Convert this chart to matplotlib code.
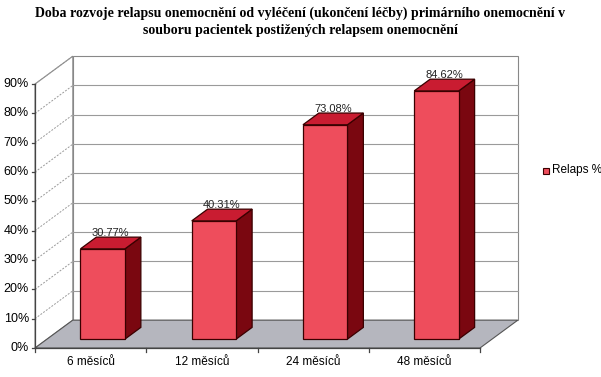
import numpy as np
import matplotlib.pyplot as plt
from matplotlib.patches import Polygon

# data
categories = ["6 měsíců", "12 měsíců", "24 měsíců", "48 měsíců"]
values = [30.77, 40.31, 73.08, 84.62]
value_labels = ["30.77%", "40.31%", "73.08%", "84.62%"]
y_ticks = [0, 10, 20, 30, 40, 50, 60, 70, 80, 90]
series_name = "Relaps %"
title = ("Doba rozvoje relapsu onemocnění od vyléčení (ukončení léčby) primárního onemocnění v\n"
         "souboru pacientek postižených relapsem onemocnění")

# 3D look (oblique projection in data units)
ymax = 90
dx, dy = 0.34, 9.5          # depth vector
d0, d1 = 0.32, 0.74         # bar front/back depth fraction
bar_w = 0.40

c_front = "#EE4D5C"
c_top = "#C91C31"
c_side = "#7A0710"
c_edge = "#3A0000"

fig = plt.figure(figsize=(6.01, 3.77), dpi=100)
ax = fig.add_axes([0, 0, 1, 1])
px_x, px_y = 111.25, 2.933
ax.set_xlim(-35 / px_x, (601 - 35) / px_x)
ax.set_ylim(-29 / px_y, (377 - 29) / px_y)
ax.axis("off")

n = len(categories)

# walls and floor
floor = Polygon([(0, 0), (n, 0), (n + dx, dy), (dx, dy)],
                facecolor="#B5B6BE", edgecolor="#555555", lw=0.8, zorder=1)
back = Polygon([(dx, dy), (n + dx, dy), (n + dx, ymax + dy), (dx, ymax + dy)],
               facecolor="white", edgecolor="#888888", lw=0.8, zorder=0)
left = Polygon([(0, 0), (dx, dy), (dx, ymax + dy), (0, ymax)],
               facecolor="white", edgecolor="#888888", lw=0.8, zorder=0)
for p in (back, left, floor):
    ax.add_patch(p)

for t in y_ticks[1:-1]:
    ax.plot([dx, n + dx], [t + dy, t + dy], color="#9A9A9A", lw=0.8, zorder=0.5)
for t in y_ticks[1:]:
    ax.plot([0, dx], [t, t + dy], color="#9A9A9A", lw=0.7, ls=(0, (2, 1.5)), zorder=0.5)

# axes lines and ticks
ax.plot([0, 0], [0, ymax], color="#444444", lw=0.9, zorder=2)
ax.plot([0, n], [0, 0], color="#444444", lw=0.9, zorder=2)
for t in y_ticks:
    ax.plot([-3 / px_x, 0], [t, t], color="#444444", lw=0.9, zorder=2)
    ax.text(-6 / px_x, t, f"{t}%", ha="right", va="center", fontsize=9,
            family="Liberation Sans")
for i in range(n + 1):
    ax.plot([i, i], [0, -4 / px_y], color="#444444", lw=0.9, zorder=2)
for i, cat in enumerate(categories):
    ax.text(i + 0.5, -14 / px_y, cat, ha="center", va="center", fontsize=8.5,
            family="Liberation Sans")

# bars
for i, (v, lab) in enumerate(zip(values, value_labels)):
    x0 = i + 0.5 - bar_w / 2
    x1 = i + 0.5 + bar_w / 2
    fx0, fx1 = x0 + d0 * dx, x1 + d0 * dx
    by = d0 * dy
    ddx, ddy = (d1 - d0) * dx, (d1 - d0) * dy
    side = Polygon([(fx1, by), (fx1 + ddx, by + ddy), (fx1 + ddx, by + ddy + v), (fx1, by + v)],
                   facecolor=c_side, edgecolor=c_edge, lw=0.9, zorder=3)
    top = Polygon([(fx0, by + v), (fx1, by + v), (fx1 + ddx, by + v + ddy), (fx0 + ddx, by + v + ddy)],
                  facecolor=c_top, edgecolor=c_edge, lw=0.9, zorder=3)
    front = Polygon([(fx0, by), (fx1, by), (fx1, by + v), (fx0, by + v)],
                    facecolor=c_front, edgecolor=c_edge, lw=0.9, zorder=4)
    for p in (side, top, front):
        ax.add_patch(p)
    ax.text((fx0 + fx1) / 2 + ddx / 2, by + v + ddy + 4 / px_y, lab, ha="center", va="center",
            fontsize=8, family="Liberation Sans", color="#222222", zorder=5)

# legend
lx, ly = (543 - 35) / px_x, (377 - 29 - 170.5) / px_y
ax.add_patch(Polygon([(lx, ly - 3 / px_y), (lx + 6 / px_x, ly - 3 / px_y),
                      (lx + 6 / px_x, ly + 3 / px_y), (lx, ly + 3 / px_y)],
                     facecolor=c_front, edgecolor=c_edge, lw=0.8, zorder=5))
ax.text(lx + 9 / px_x, ly, series_name, ha="left", va="center", fontsize=8.5,
        family="Liberation Sans")

fig.text(0.5, 1 - 22 / 377, title, ha="center", va="center", fontsize=10,
         fontweight="bold", family="Liberation Serif", linespacing=1.45)

plt.savefig("out.png", dpi=100)
plt.close()
